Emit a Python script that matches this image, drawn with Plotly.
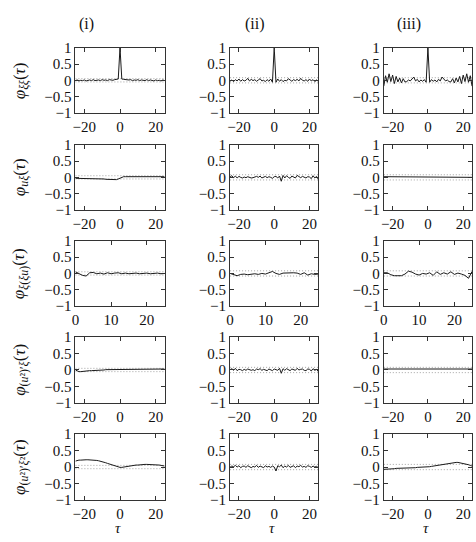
import plotly.graph_objects as go

W, H = 476, 542

tau = list(range(-25, 26))
tau_pos = list(range(0, 26))

col_titles = ["(i)", "(ii)", "(iii)"]
row_labels = [
    "<i>φ</i><sub><i>ξξ</i></sub>(<i>τ</i>)",
    "<i>φ</i><sub><i>uξ</i></sub>(<i>τ</i>)",
    "<i>φ</i><sub><i>ξ</i>(<i>ξu</i>)</sub>(<i>τ</i>)",
    "<i>φ</i><sub>(<i>u</i>²)′<i>ξ</i></sub>(<i>τ</i>)",
    "<i>φ</i><sub>(<i>u</i>²)′<i>ξ</i>²</sub>(<i>τ</i>)",
]
conf = [0.05, 0.08, 0.08]

# row 1: phi_xixi
xixi_i = [-0.01, 0.01, -0.02, 0.00, -0.01, 0.01, -0.02, 0.00, 0.01, -0.01, 0.02, -0.01, 0.00,
          0.01, -0.01, 0.02, 0.00, 0.01, -0.01, 0.02, 0.01, 0.00, 0.02, 0.03, 0.04,
          1.00,
          0.04, 0.03, 0.02, 0.00, 0.01, 0.02, -0.01, 0.01, 0.00, 0.02, -0.01, 0.01, 0.00,
          -0.01, 0.02, -0.01, 0.01, 0.00, -0.02, 0.01, -0.01, 0.00, -0.02, 0.01, -0.01]
xixi_ii = [-0.03, 0.01, -0.04, 0.02, -0.02, 0.04, -0.03, 0.02, -0.02, 0.00, 0.06, -0.02, 0.03,
           -0.01, 0.02, -0.03, 0.01, 0.05, -0.02, 0.00, -0.04, 0.02, -0.03, 0.04, -0.06,
           1.00,
           -0.06, 0.04, -0.03, 0.02, -0.04, 0.00, -0.02, 0.05, 0.01, -0.03, 0.02, -0.01, 0.03,
           -0.02, 0.06, 0.00, -0.02, 0.02, -0.03, 0.04, -0.02, 0.02, -0.04, 0.01, -0.03]
xixi_iii = [-0.18, 0.14, -0.06, 0.20, -0.04, 0.16, -0.10, 0.12, -0.05, 0.07, -0.08, 0.05, -0.05,
            -0.04, 0.01, -0.02, 0.04, 0.10, -0.02, 0.03, -0.05, 0.01, -0.03, 0.02, -0.06,
            1.00,
            -0.06, 0.02, -0.03, 0.01, -0.05, 0.03, -0.02, 0.10, 0.04, -0.02, 0.01, -0.04, -0.05,
            0.05, -0.08, 0.07, -0.05, 0.12, -0.10, 0.16, -0.04, 0.20, -0.06, 0.14, -0.18]

# row 2: phi_uxi
uxi_i = [-0.03, -0.03, -0.03, -0.03, -0.04, -0.04, -0.04, -0.04, -0.04, -0.04, -0.04, -0.05, -0.05,
         -0.05, -0.05, -0.05, -0.05, -0.06, -0.06, -0.07, -0.07, -0.08, -0.08, -0.07, -0.05,
         -0.02,
         0.01, 0.02, 0.02, 0.02, 0.02, 0.02, 0.02, 0.02, 0.02, 0.02, 0.02, 0.02, 0.02,
         0.02, 0.02, 0.02, 0.02, 0.02, 0.02, 0.02, 0.02, 0.02, 0.02, 0.02, 0.02]
uxi_ii = [0.02, 0.05, -0.01, 0.04, -0.02, 0.03, 0.00, -0.02, 0.01, -0.01, 0.02, 0.00, -0.02,
          -0.01, 0.01, 0.03, 0.00, 0.04, -0.02, 0.01, 0.03, -0.01, 0.02, 0.00, -0.03,
          0.02,
          0.03, -0.02, 0.04, -0.12, 0.06, -0.02, 0.05, 0.00, -0.03, 0.04, 0.02, -0.02, 0.06,
          0.01, -0.01, 0.03, 0.00, -0.02, 0.02, 0.01, -0.04, 0.05, -0.02, 0.03, -0.06]
uxi_iii = [0.02, 0.02, 0.02, 0.02, 0.02, 0.02, 0.02, 0.02, 0.02, 0.02, 0.01, 0.01, 0.01,
           0.01, 0.01, 0.01, 0.01, 0.01, 0.01, 0.01, 0.01, 0.01, 0.01, 0.01, 0.01,
           0.01,
           0.01, 0.01, 0.01, 0.01, 0.01, 0.01, 0.01, 0.01, 0.01, 0.01, 0.01, 0.01, 0.01,
           0.00, 0.00, 0.00, 0.00, 0.00, 0.00, 0.00, 0.00, 0.00, 0.00, 0.00, 0.00]

# row 3: phi_xi(xiu), tau >= 0
xixiu_i = [0.05, 0.00, -0.06, -0.08, 0.02, 0.03, -0.01, 0.01, -0.02, 0.02, -0.01, 0.01, 0.02,
           -0.01, 0.01, -0.01, 0.00, 0.01, -0.01, 0.00, 0.01, -0.01, 0.00, 0.01, -0.01, 0.00]
xixiu_ii = [0.00, -0.04, -0.07, -0.03, -0.02, -0.04, -0.02, -0.01, -0.03, 0.00, -0.02, 0.01, 0.06,
            0.00, -0.03, 0.01, 0.02, 0.03, 0.02, 0.01, -0.03, 0.02, -0.05, -0.01, -0.03, -0.02]
xixiu_iii = [0.02, 0.02, -0.04, -0.07, -0.07, -0.07, -0.02, 0.07, 0.04, -0.02, -0.05, 0.00, -0.02,
             0.02, -0.06, 0.05, -0.03, 0.02, -0.02, 0.05, -0.03, 0.01, -0.02, -0.06, -0.15, 0.06]

# row 4: phi_(u^2)'xi
u2xi_i = [0.00, -0.03, -0.05, -0.05, -0.04, -0.04, -0.03, -0.03, -0.02, -0.02, -0.02, -0.01, -0.01,
          -0.01, 0.00, 0.00, 0.00, 0.01, 0.01, 0.01, 0.01, 0.02, 0.02, 0.02, 0.02,
          0.03,
          0.03, 0.03, 0.03, 0.03, 0.03, 0.03, 0.03, 0.03, 0.03, 0.03, 0.03, 0.03, 0.03,
          0.03, 0.03, 0.03, 0.03, 0.03, 0.03, 0.03, 0.03, 0.03, 0.03, 0.03, 0.03]
u2xi_ii = [0.01, 0.04, -0.01, 0.05, -0.02, 0.02, 0.01, -0.02, 0.02, -0.01, 0.03, 0.00, -0.01,
           0.01, -0.02, 0.03, 0.01, 0.04, -0.01, 0.02, 0.00, -0.02, 0.03, 0.01, -0.02,
           0.03,
           0.02, -0.01, 0.05, -0.10, 0.04, -0.01, 0.04, 0.01, -0.02, 0.03, 0.02, -0.01, 0.05,
           0.00, 0.02, 0.03, -0.01, -0.02, 0.03, 0.02, -0.03, 0.04, -0.01, 0.02, -0.05]
u2xi_iii = [0.03, 0.03, 0.03, 0.03, 0.03, 0.03, 0.03, 0.03, 0.03, 0.03, 0.03, 0.03, 0.03,
            0.03, 0.03, 0.03, 0.03, 0.03, 0.03, 0.03, 0.03, 0.03, 0.03, 0.03, 0.03,
            0.03,
            0.03, 0.03, 0.03, 0.03, 0.03, 0.03, 0.03, 0.03, 0.03, 0.03, 0.03, 0.03, 0.03,
            0.03, 0.03, 0.03, 0.03, 0.03, 0.03, 0.03, 0.03, 0.03, 0.03, 0.03, 0.03]

# row 5: phi_(u^2)'xi^2
u2xi2_i = [0.18, 0.20, 0.21, 0.21, 0.22, 0.22, 0.22, 0.22, 0.22, 0.22, 0.21, 0.21, 0.20,
           0.19, 0.18, 0.17, 0.15, 0.13, 0.11, 0.09, 0.07, 0.05, 0.03, 0.01, 0.00,
           -0.01,
           -0.01, 0.00, 0.02, 0.03, 0.04, 0.05, 0.05, 0.06, 0.06, 0.06, 0.07, 0.07, 0.07,
           0.08, 0.08, 0.08, 0.08, 0.08, 0.07, 0.07, 0.06, 0.06, 0.05, 0.04, 0.03]
u2xi2_ii = [0.00, 0.03, 0.01, 0.05, 0.00, 0.04, -0.02, 0.02, 0.03, -0.01, 0.04, 0.01, -0.02,
            0.02, 0.00, 0.05, -0.01, 0.03, 0.01, -0.02, 0.04, 0.00, 0.02, -0.01, 0.03,
            0.00,
            -0.12, 0.04, 0.01, 0.06, -0.02, 0.03, 0.00, 0.05, -0.01, 0.02, 0.04, -0.02, 0.03,
            0.01, 0.05, 0.00, 0.02, -0.01, 0.04, 0.02, -0.01, 0.03, 0.00, 0.02, -0.02]
u2xi2_iii = [-0.07, -0.07, -0.06, -0.06, -0.05, -0.05, -0.05, -0.04, -0.04, -0.04, -0.03, -0.03, -0.03,
             -0.03, -0.02, -0.02, -0.02, -0.02, -0.02, -0.01, -0.01, -0.01, -0.01, 0.00, 0.00,
             0.00,
             0.01, 0.02, 0.03, 0.04, 0.05, 0.06, 0.07, 0.08, 0.09, 0.10, 0.11, 0.12, 0.13,
             0.13, 0.14, 0.14, 0.14, 0.13, 0.13, 0.12, 0.11, 0.09, 0.07, 0.05, 0.03]

panels = [
    [xixi_i, xixi_ii, xixi_iii],
    [uxi_i, uxi_ii, uxi_iii],
    [xixiu_i, xixiu_ii, xixiu_iii],
    [u2xi_i, u2xi_ii, u2xi_iii],
    [u2xi2_i, u2xi2_ii, u2xi2_iii],
]

ytickvals = [-1, -0.5, 0, 0.5, 1]
yticktext = ["−1", "−0.5", "0", "0.5", "1"]

# layout geometry (pixels)
col_x = [(72, 162), (228, 317), (383, 472)]
row_y = [(41, 108), (141, 208), (240, 307), (339, 407), (439, 507)]


def px_x(v):
    return v / W


def px_y(v):
    return 1 - v / H


FONT = "Liberation Serif"
TICK_SIZE = 15
fig = go.Figure()
layout = {}
n = 0
for r in range(5):
    for c in range(3):
        n += 1
        xa = "x" if n == 1 else f"x{n}"
        ya = "y" if n == 1 else f"y{n}"
        ys = panels[r][c]
        xs = tau_pos if r == 2 else tau
        assert len(xs) == len(ys), (r, c, len(ys))
        for sgn in (1, -1):
            fig.add_trace(go.Scatter(x=[xs[0], xs[-1]], y=[sgn * conf[c], sgn * conf[c]],
                                     mode="lines", xaxis=xa, yaxis=ya, showlegend=False,
                                     line=dict(color="#8c8c8c", width=0.8, dash="1px,2px"),
                                     hoverinfo="skip"))
        fig.add_trace(go.Scatter(x=xs, y=ys, mode="lines", xaxis=xa, yaxis=ya,
                                 showlegend=False, line=dict(color="#1a1a1a", width=1)))
        x0, x1 = col_x[c]
        y0, y1 = row_y[r]
        if r == 2:
            xr = [0, 25]
            xt = [0, 10, 20]
            xtt = ["0", "10", "20"]
        else:
            xr = [-25, 25]
            xt = [-20, 0, 20]
            xtt = ["−20", "0", "20"]
        key = "xaxis" if n == 1 else f"xaxis{n}"
        ykey = "yaxis" if n == 1 else f"yaxis{n}"
        layout[key] = dict(domain=[px_x(x0), px_x(x1)], anchor=ya, range=xr,
                           tickvals=xt, ticktext=xtt, ticks="inside", ticklen=4,
                           tickcolor="#333", showline=True, linecolor="#333", linewidth=1,
                           mirror="allticks", showgrid=False, zeroline=False,
                           tickfont=dict(family=FONT, size=TICK_SIZE, color="#111"))
        layout[ykey] = dict(domain=[px_y(y1), px_y(y0)], anchor=xa, range=[-1, 1],
                            tickvals=ytickvals, ticktext=yticktext, ticks="inside", ticklen=4,
                            tickcolor="#333", showline=True, linecolor="#333", linewidth=1,
                            mirror="allticks", showgrid=False, zeroline=False,
                            tickfont=dict(family=FONT, size=TICK_SIZE, color="#111"))

annotations = []
col_title_x = [83, 253, 408]
for c in range(3):
    annotations.append(dict(text=col_titles[c], x=px_x(col_title_x[c]), y=px_y(17),
                            xref="paper", yref="paper", showarrow=False,
                            xanchor="center", yanchor="middle",
                            font=dict(family=FONT, size=16, color="#111")))
    cx = (col_x[c][0] + col_x[c][1]) / 2
    annotations.append(dict(text="<i>τ</i>", x=px_x(cx - 2), y=px_y(536),
                            xref="paper", yref="paper", showarrow=False,
                            xanchor="center", yanchor="middle",
                            font=dict(family=FONT, size=15, color="#111")))
for r in range(5):
    cy = (row_y[r][0] + row_y[r][1]) / 2
    annotations.append(dict(text=row_labels[r], x=px_x(17), y=px_y(cy),
                            xref="paper", yref="paper", showarrow=False, textangle=-90,
                            xanchor="center", yanchor="middle",
                            font=dict(family=FONT, size=17, color="#111")))

fig.update_layout(width=W, height=H, margin=dict(l=0, r=0, t=0, b=0),
                  paper_bgcolor="white", plot_bgcolor="white",
                  annotations=annotations, **layout)
fig.write_html("out.html")
